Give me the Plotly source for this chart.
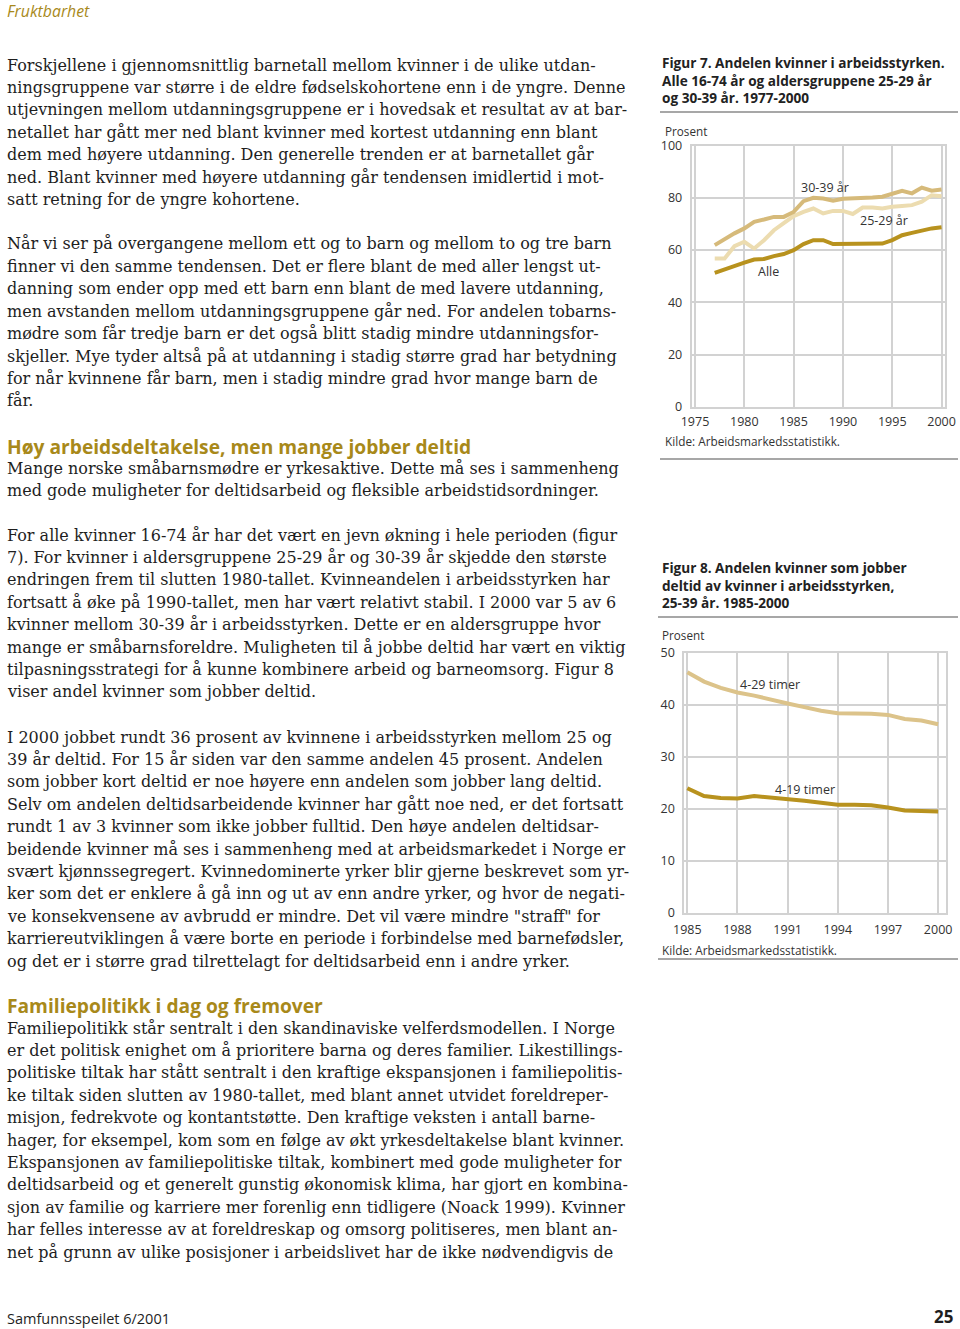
import plotly.graph_objects as go

W, H = 960, 1329

# ---------------- data ----------------
years7 = list(range(1977, 2001))
alle = [51.3, 52.7, 54.2, 55.2, 56.4, 56.6, 57.7, 58.5, 60.0, 62.3, 63.8, 63.8,
        62.3, 62.3, 62.3, 62.2, 62.2, 62.5, 63.8, 65.7, 66.6, 67.4, 68.3, 68.7]
age25_29 = [56.8, 56.8, 61.5, 63.2, 60.6, 63.8, 67.6, 70.2, 73.0, 74.6, 75.9, 74.0,
            75.0, 75.0, 73.8, 76.3, 76.3, 75.9, 76.6, 76.9, 77.2, 78.5, 81.0, 80.6]
age30_39 = [61.9, 64.2, 66.4, 68.3, 70.8, 71.7, 72.7, 72.7, 74.6, 78.7, 80.0, 79.7,
            78.9, 79.6, 79.7, 79.9, 80.1, 80.4, 81.7, 82.7, 81.7, 83.9, 82.7, 83.2]
x7_ticks = [1975, 1980, 1985, 1990, 1995, 2000]
y7_ticks = [0, 20, 40, 60, 80, 100]

years8 = list(range(1985, 2001))
t4_29 = [46.3, 44.5, 43.3, 42.4, 41.8, 41.0, 40.3, 39.6, 38.9, 38.4, 38.4, 38.3,
         38.1, 37.3, 37.0, 36.3]
t4_19 = [24.0, 22.5, 22.1, 22.0, 22.5, 22.2, 22.0, 21.6, 21.2, 20.8, 20.8, 20.7,
         20.3, 19.7, 19.6, 19.5]
x8_ticks = [1985, 1988, 1991, 1994, 1997, 2000]
y8_ticks = [0, 10, 20, 30, 40, 50]

para1 = [
    "Forskjellene i gjennomsnittlig barnetall mellom kvinner i de ulike utdan-",
    "ningsgruppene var større i de eldre fødselskohortene enn i de yngre. Denne",
    "utjevningen mellom utdanningsgruppene er i hovedsak et resultat av at bar-",
    "netallet har gått mer ned blant kvinner med kortest utdanning enn blant",
    "dem med høyere utdanning. Den generelle trenden er at barnetallet går",
    "ned. Blant kvinner med høyere utdanning går tendensen imidlertid i mot-",
    "satt retning for de yngre kohortene.",
]
para2 = [
    "Når vi ser på overgangene mellom ett og to barn og mellom to og tre barn",
    "finner vi den samme tendensen. Det er flere blant de med aller lengst ut-",
    "danning som ender opp med ett barn enn blant de med lavere utdanning,",
    "men avstanden mellom utdanningsgruppene går ned. For andelen tobarns-",
    "mødre som får tredje barn er det også blitt stadig mindre utdanningsfor-",
    "skjeller. Mye tyder altså på at utdanning i stadig større grad har betydning",
    "for når kvinnene får barn, men i stadig mindre grad hvor mange barn de",
    "får.",
]
heading1 = "Høy arbeidsdeltakelse, men mange jobber deltid"
lead1 = [
    "Mange norske småbarnsmødre er yrkesaktive. Dette må ses i sammenheng",
    "med gode muligheter for deltidsarbeid og fleksible arbeidstidsordninger.",
]
para3 = [
    "For alle kvinner 16-74 år har det vært en jevn økning i hele perioden (figur",
    "7). For kvinner i aldersgruppene 25-29 år og 30-39 år skjedde den største",
    "endringen frem til slutten 1980-tallet. Kvinneandelen i arbeidsstyrken har",
    "fortsatt å øke på 1990-tallet, men har vært relativt stabil. I 2000 var 5 av 6",
    "kvinner mellom 30-39 år i arbeidsstyrken. Dette er en aldersgruppe hvor",
    "mange er småbarnsforeldre. Muligheten til å jobbe deltid har vært en viktig",
    "tilpasningsstrategi for å kunne kombinere arbeid og barneomsorg. Figur 8",
    "viser andel kvinner som jobber deltid.",
]
para4 = [
    "I 2000 jobbet rundt 36 prosent av kvinnene i arbeidsstyrken mellom 25 og",
    "39 år deltid. For 15 år siden var den samme andelen 45 prosent. Andelen",
    "som jobber kort deltid er noe høyere enn andelen som jobber lang deltid.",
    "Selv om andelen deltidsarbeidende kvinner har gått noe ned, er det fortsatt",
    "rundt 1 av 3 kvinner som ikke jobber fulltid. Den høye andelen deltidsar-",
    "beidende kvinner må ses i sammenheng med at arbeidsmarkedet i Norge er",
    "svært kjønnssegregert. Kvinnedominerte yrker blir gjerne beskrevet som yr-",
    "ker som det er enklere å gå inn og ut av enn andre yrker, og hvor de negati-",
    "ve konsekvensene av avbrudd er mindre. Det vil være mindre \"straff\" for",
    "karriereutviklingen å være borte en periode i forbindelse med barnefødsler,",
    "og det er i større grad tilrettelagt for deltidsarbeid enn i andre yrker.",
]
heading2 = "Familiepolitikk i dag og fremover"
para5 = [
    "Familiepolitikk står sentralt i den skandinaviske velferdsmodellen. I Norge",
    "er det politisk enighet om å prioritere barna og deres familier. Likestillings-",
    "politiske tiltak har stått sentralt i den kraftige ekspansjonen i familiepolitis-",
    "ke tiltak siden slutten av 1980-tallet, med blant annet utvidet foreldreper-",
    "misjon, fedrekvote og kontantstøtte. Den kraftige veksten i antall barne-",
    "hager, for eksempel, kom som en følge av økt yrkesdeltakelse blant kvinner.",
    "Ekspansjonen av familiepolitiske tiltak, kombinert med gode muligheter for",
    "deltidsarbeid og et generelt gunstig økonomisk klima, har gjort en kombina-",
    "sjon av familie og karriere mer forenlig enn tidligere (Noack 1999). Kvinner",
    "har felles interesse av at foreldreskap og omsorg politiseres, men blant an-",
    "net på grunn av ulike posisjoner i arbeidslivet har de ikke nødvendigvis de",
]
fig7_title = ["Figur 7. Andelen kvinner i arbeidsstyrken.",
              "Alle 16-74 år og aldersgruppene 25-29 år",
              "og 30-39 år. 1977-2000"]
fig8_title = ["Figur 8. Andelen kvinner som jobber",
              "deltid av kvinner i arbeidsstyrken,",
              "25-39 år. 1985-2000"]
source = "Kilde: Arbeidsmarkedsstatistikk."

# ---------------- styles ----------------
SERIF = "DejaVu Serif"
SANS = "Open Sans"
GOLD = "#a8891a"
TXT = "#1e1e1e"
C_ALLE = "#b8921e"
C_2529 = "#ecdcb0"
C_3039 = "#d6ba7a"
C_429 = "#dcc38a"
C_419 = "#b8921e"
GRID = "#d2d2d2"

def px(x):
    return x / W

def py(y):
    return 1 - y / H

annotations = []
shapes = []

def text(x, y, s, size, color=TXT, family=SERIF, bold=False, italic=False,
         xanchor="left", yanchor="middle"):
    if bold:
        s = "<b>" + s + "</b>"
    if italic:
        s = "<i>" + s + "</i>"
    annotations.append(dict(x=px(x), y=py(y), xref="paper", yref="paper", text=s,
                            showarrow=False, xanchor=xanchor, yanchor=yanchor,
                            align="left",
                            font=dict(family=family, size=size, color=color)))

PITCH = 22.4

def para(lines, y0, size=16.0):
    for i, ln in enumerate(lines):
        text(5, y0 + i * PITCH, ln, size)

text(5, 11, "Fruktbarhet", 15.8, GOLD, SANS, italic=True)
para(para1, 65)
para(para2, 244)
text(5, 446, heading1, 19.2, GOLD, SANS, bold=True)
para(lead1, 468)
para(para3, 535)
para(para4, 737)
text(5, 1005, heading2, 19.2, GOLD, SANS, bold=True)
para(para5, 1028)
text(5, 1318, "Samfunnsspeilet 6/2001", 14.5, TXT, SANS)
text(955, 1316, "25", 17, TXT, SANS, bold=True, xanchor="right")

# figure titles as one multi-line block each (line pitch = 1.3 * size)
TS = 13.6
text(660, 80, "<br>".join("<b>" + s + "</b>" for s in fig7_title), TS, "#222", SANS)
text(660, 585, "<br>".join("<b>" + s + "</b>" for s in fig8_title), TS, "#222", SANS)
text(663, 131, "Prosent", 11.7, "#333", SANS)
text(660, 635, "Prosent", 11.7, "#333", SANS)
text(663, 441, source, 11.8, "#333", SANS)
text(660, 950, source, 11.8, "#333", SANS)

for y in (112, 459):
    shapes.append(dict(type="line", xref="paper", yref="paper", x0=px(660), x1=px(958),
                       y0=py(y), y1=py(y), line=dict(color="#8a8a8a", width=1.6)))
for y in (617, 959):
    shapes.append(dict(type="line", xref="paper", yref="paper", x0=px(658), x1=px(958),
                       y0=py(y), y1=py(y), line=dict(color="#8a8a8a", width=1.6)))

fig = go.Figure()

def line(x, y, color, xa, ya):
    fig.add_trace(go.Scatter(x=x, y=y, mode="lines", xaxis=xa, yaxis=ya,
                             line=dict(color=color, width=4), showlegend=False,
                             hoverinfo="skip"))

line(years7, age25_29, C_2529, "x", "y")
line(years7, age30_39, C_3039, "x", "y")
line(years7, alle, C_ALLE, "x", "y")
line(years8, t4_29, C_429, "x2", "y2")
line(years8, t4_19, C_419, "x2", "y2")

# chart labels (data coords)
def clabel(x, y, s, xr, yr):
    annotations.append(dict(x=x, y=y, xref=xr, yref=yr, text=s, showarrow=False,
                            xanchor="center", yanchor="middle",
                            font=dict(family=SANS, size=12.5, color="#333")))

clabel(1988.2, 83.8, "30-39 år", "x", "y")
clabel(1994.2, 71.2, "25-29 år", "x", "y")
clabel(1982.5, 52.0, "Alle", "x", "y")
clabel(1989.95, 44.0, "4-29 timer", "x2", "y2")
clabel(1992.05, 23.8, "4-19 timer", "x2", "y2")

axfont = dict(family=SANS, size=12.5, color="#333")
common = dict(showgrid=True, gridcolor=GRID, gridwidth=2, showline=True, mirror=True,
              linecolor=GRID, linewidth=2, zeroline=False, ticks="", tickfont=axfont,
              fixedrange=True, automargin=False)

fig.update_layout(
    width=W, height=H, autosize=False,
    margin=dict(l=0, r=0, t=0, b=0, pad=0, autoexpand=False),
    paper_bgcolor="white", plot_bgcolor="white",
    xaxis=dict(domain=[px(691.7), px(945)], range=[1974.665, 2000.35],
               tickvals=x7_ticks, ticktext=[str(v) for v in x7_ticks],
               anchor="y", ticklabelstandoff=2, **common),
    yaxis=dict(domain=[py(407), py(145.5)], range=[0, 100],
               tickvals=y7_ticks, ticktext=[str(v) for v in y7_ticks],
               anchor="x", ticklabelstandoff=5, **common),
    xaxis2=dict(domain=[px(684.3), px(946)], range=[1984.82, 2000.47],
                tickvals=x8_ticks, ticktext=[str(v) for v in x8_ticks],
                anchor="y2", ticklabelstandoff=4, **common),
    yaxis2=dict(domain=[py(913), py(653)], range=[0, 50],
                tickvals=y8_ticks, ticktext=[str(v) for v in y8_ticks],
                anchor="x2", ticklabelstandoff=5, **common),
    annotations=annotations,
    shapes=shapes,
)

fig.write_html(
    "out.html",
    config={"displayModeBar": False, "staticPlot": True},
    post_script="document.body.style.margin='0';document.body.style.padding='0';"
                "document.documentElement.style.overflow='hidden';",
)
